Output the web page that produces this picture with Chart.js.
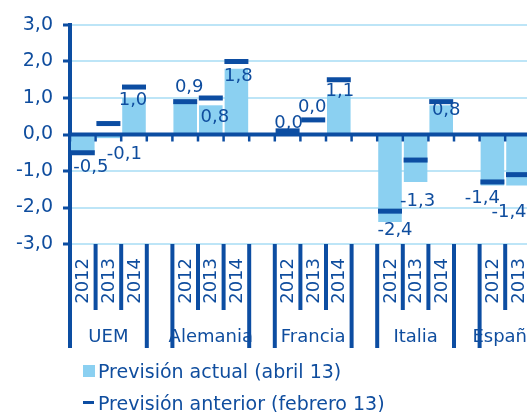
<!DOCTYPE html>
<html>
<head>
<meta charset="utf-8">
<script src="https://cdn.jsdelivr.net/npm/chart.js@4.4.1/dist/chart.umd.min.js"></script>
<style>
  html, body { margin: 0; padding: 0; overflow: hidden; background: #fff; }
  #wrap { position: relative; width: 527px; height: 412px; overflow: hidden; }
  #chart { position: absolute; left: 0; top: 0; }
  .item {
    position: absolute; left: 98px;
    font-family: "DejaVu Sans", sans-serif; font-size: 19px; line-height: 19px;
    color: #0f4d9e; white-space: nowrap;
  }
  .item .sw { position: absolute; left: -15px; }
  .item .box { top: 3px; width: 12px; height: 12px; background: #8bd0f1; }
  .item .dash { top: 7px; width: 11px; height: 2.5px; background: #0c4da2; }
</style>
</head>
<body>
<div id="wrap">
  <canvas id="chart" width="600" height="412"></canvas>
  <div class="item" id="leg0" style="top:362px"><span class="sw box"></span></div>
  <div class="item" id="leg1" style="top:394px"><span class="sw dash"></span></div>
</div>
<script>
  var groups = ['UEM', 'Alemania', 'Francia', 'Italia', 'España'];
  var years = ['2012', '2013', '2014'];
  var seriesNames = ['Previsión actual (abril 13)', 'Previsión anterior (febrero 13)'];

  // one value per group and year, in the order above
  var actual   = [-0.5, -0.1, 1.0,  0.9, 0.8, 1.8,  0.0, 0.0, 1.1,  -2.4, -1.3, 0.8,  -1.4, -1.4, null];
  var previous = [-0.5,  0.3, 1.3,  0.9, 1.0, 2.0,  0.1, 0.4, 1.5,  -2.1, -0.7, 0.9,  -1.3, -1.1, null];

  // hand placement of the value labels, px from the end of each bar
  var labelNudge = [[8, 15], [16, 16], [-1, 2],  [4, -14], [4, 12], [2, 8],  [1, -11], [-1, -27], [1, -3],
                    [5, 8], [2, 19], [5, 5],  [-10, 13], [-9, 27], [0, 0]];

  var DARK = '#0c4da2';
  var TEXT = '#0f4d9e';
  var LIGHT = '#8bd0f1';
  var GRID = '#bde5f7';
  var FONT = '"DejaVu Sans", sans-serif';

  function fmt(v) { return v.toFixed(1).replace('.', ','); }

  // each group gets its years plus an empty slot as a gap
  var labels = [];
  var slotOf = [];
  var barData = [];
  var markData = [];
  groups.forEach(function(g, gi) {
    years.forEach(function(y, yi) {
      var k = gi * years.length + yi;
      slotOf.push(labels.length);
      labels.push(y);
      barData.push(actual[k]);
      markData.push(previous[k]);
    });
    labels.push('');
    barData.push(null);
    markData.push(null);
  });

  document.getElementById('leg0').appendChild(document.createTextNode(seriesNames[0]));
  document.getElementById('leg1').appendChild(document.createTextNode(seriesNames[1]));

  var decorations = {
    id: 'decorations',
    afterDatasetDraw: function(chart, args) {
      if (args.index !== 0) return;
      var ctx = chart.ctx, area = chart.chartArea;
      var y0 = chart.scales.y.getPixelForValue(0);
      ctx.save();
      ctx.strokeStyle = DARK;
      ctx.lineWidth = 4;
      ctx.beginPath();
      ctx.moveTo(area.left, y0);
      ctx.lineTo(chart.width, y0);
      ctx.stroke();
      ctx.restore();
    },
    afterDraw: function(chart) {
      var ctx = chart.ctx, area = chart.chartArea;
      var x = chart.scales.x, y = chart.scales.y;
      var slot = x.width / labels.length;
      var y0 = y.getPixelForValue(0);
      ctx.save();
      ctx.strokeStyle = DARK;
      ctx.fillStyle = TEXT;

      groups.forEach(function(g, gi) {
        var first = slotOf[gi * years.length];
        var left = x.getPixelForValue(first) - slot / 2;
        for (var j = 0; j <= years.length; j++) {
          var bx = left + j * slot;
          var edge = (j === 0 || j === years.length);
          // small ticks under the zero line
          ctx.lineWidth = 2.5;
          ctx.beginPath();
          ctx.moveTo(bx, y0);
          ctx.lineTo(bx, y0 + 7);
          ctx.stroke();
          // dividers under the plot
          ctx.lineWidth = 4;
          ctx.beginPath();
          ctx.moveTo(bx, area.bottom);
          ctx.lineTo(bx, area.bottom + (edge ? 104 : 66));
          ctx.stroke();
        }

        // years, reading upward
        ctx.font = '18px ' + FONT;
        ctx.textAlign = 'right';
        ctx.textBaseline = 'middle';
        years.forEach(function(yr, yi) {
          var cx = x.getPixelForValue(first + yi);
          ctx.save();
          ctx.translate(cx + 1, area.bottom + 14);
          ctx.rotate(-Math.PI / 2);
          ctx.fillText(yr, 0, 0);
          ctx.restore();
        });

        // group name centred under its bars
        var xs = [];
        years.forEach(function(yr, yi) {
          if (actual[gi * years.length + yi] !== null) xs.push(x.getPixelForValue(first + yi));
        });
        var mid = xs.reduce(function(a, b) { return a + b; }, 0) / xs.length;
        ctx.textAlign = 'center';
        ctx.fillText(g, mid, area.bottom + 93);
      });

      // value labels
      var meta = chart.getDatasetMeta(0);
      ctx.font = '18px ' + FONT;
      ctx.textAlign = 'center';
      ctx.textBaseline = 'middle';
      actual.forEach(function(v, k) {
        if (v === null) return;
        var bar = meta.data[slotOf[k]];
        ctx.fillText(fmt(v), bar.x + labelNudge[k][0], bar.y + labelNudge[k][1]);
      });
      ctx.restore();
    }
  };

  var ctx = document.getElementById('chart').getContext('2d');
  var myChart = new Chart(ctx, {
    type: 'bar',
    data: {
      labels: labels,
      datasets: [{
        type: 'bar',
        label: seriesNames[0],
        data: barData,
        backgroundColor: LIGHT,
        borderWidth: 0,
        barPercentage: 0.92,
        categoryPercentage: 1.0,
        order: 2
      }, {
        type: 'line',
        label: seriesNames[1],
        data: markData,
        showLine: false,
        pointStyle: 'line',
        pointRadius: 12,
        pointHoverRadius: 12,
        pointBorderWidth: 5,
        pointHoverBorderWidth: 5,
        pointBorderColor: DARK,
        pointBackgroundColor: DARK,
        order: 1
      }]
    },
    options: {
      responsive: false,
      animation: false,
      events: [],
      layout: { padding: { top: 25, right: 18, bottom: 168, left: 0 } },
      plugins: {
        legend: { display: false },
        tooltip: { enabled: false }
      },
      scales: {
        x: { display: false },
        y: {
          min: -3,
          max: 3,
          afterFit: function(scale) { scale.width = 70; },
          ticks: {
            stepSize: 1,
            color: TEXT,
            padding: 10,
            font: { family: FONT, size: 19 },
            callback: function(v) { return fmt(v); }
          },
          grid: {
            color: GRID,
            lineWidth: 2,
            tickColor: DARK,
            tickLength: 7,
            tickWidth: 3
          },
          border: { display: true, color: DARK, width: 4 }
        }
      }
    },
    plugins: [decorations]
  });
</script>
</body>
</html>
